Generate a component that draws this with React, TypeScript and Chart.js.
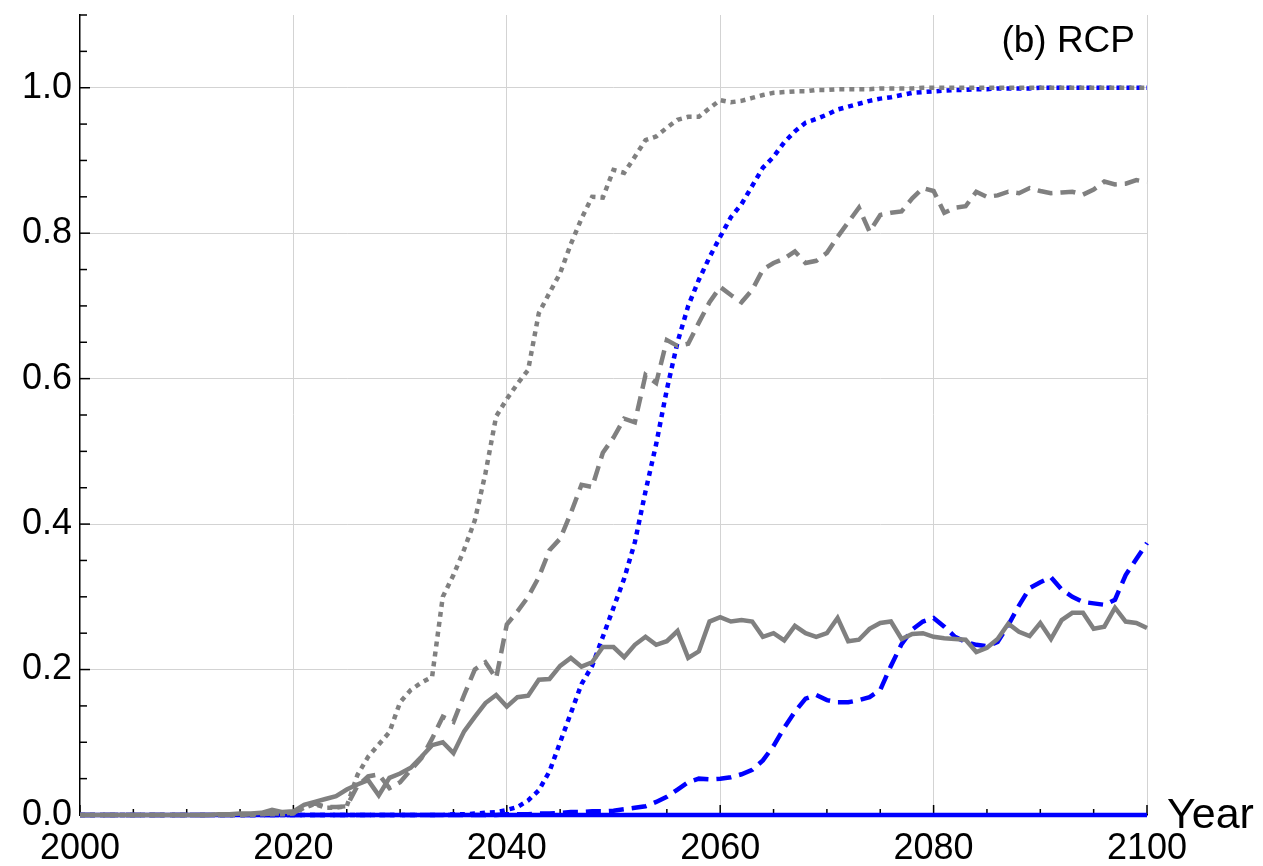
import React, { useEffect, useRef } from "react";
import { Chart, registerables } from "chart.js";

Chart.register(...registerables);

const FONT = '"Liberation Sans", Arial, Helvetica, sans-serif';

const years = Array.from({ length: 101 }, (_, i) => 2000 + i);

const xTickMarks = [2000, 2005, 2010, 2015, 2020, 2025, 2030, 2035, 2040, 2045, 2050, 2055, 2060, 2065, 2070, 2075, 2080, 2085, 2090, 2095, 2100];
const yTickMarks = [0, 0.05, 0.1, 0.15, 0.2, 0.25, 0.3, 0.35, 0.4, 0.45, 0.5, 0.55, 0.6, 0.65, 0.7, 0.75, 0.8, 0.85, 0.9, 0.95, 1.0, 1.05, 1.1];

const graySolid = [
  0, 0, 0, 0, 0, 0, 0, 0, 0, 0,
  0, 0, 0, 0.001, 0.001, 0.002, 0.002, 0.003, 0.007, 0.004,
  0.005, 0.014, 0.018, 0.022, 0.026, 0.035, 0.042, 0.048, 0.027, 0.051,
  0.057, 0.065, 0.08, 0.096, 0.1, 0.085, 0.115, 0.135, 0.154, 0.165,
  0.149, 0.162, 0.164, 0.186, 0.187, 0.205, 0.216, 0.204, 0.21, 0.231,
  0.231, 0.217, 0.234, 0.245, 0.234, 0.239, 0.253, 0.216, 0.225, 0.266,
  0.272, 0.266, 0.268, 0.266, 0.245, 0.25, 0.24, 0.26, 0.25, 0.245,
  0.25, 0.271, 0.239, 0.241, 0.256, 0.264, 0.266, 0.242, 0.249, 0.25,
  0.245, 0.243, 0.242, 0.241, 0.224, 0.23, 0.242, 0.263, 0.252, 0.246,
  0.264, 0.242, 0.268, 0.278, 0.278, 0.256, 0.259, 0.285, 0.266, 0.264,
  0.257,
];

const grayDashed = [
  0, 0, 0, 0, 0, 0, 0, 0, 0, 0,
  0, 0, 0, 0, 0, 0, 0.001, 0.001, 0.002, 0.002,
  0.003, 0.01, 0.016, 0.011, 0.011, 0.012, 0.04, 0.053, 0.056, 0.037,
  0.045, 0.062, 0.078, 0.105, 0.135, 0.128, 0.165, 0.2, 0.21, 0.188,
  0.262, 0.28, 0.3, 0.327, 0.364, 0.38, 0.415, 0.454, 0.451, 0.498,
  0.519, 0.545, 0.54, 0.605, 0.594, 0.653, 0.645, 0.648, 0.677, 0.705,
  0.726, 0.715, 0.705, 0.722, 0.75, 0.759, 0.765, 0.775, 0.759, 0.762,
  0.773, 0.795, 0.815, 0.835, 0.802, 0.825, 0.828, 0.83, 0.848, 0.862,
  0.858, 0.828, 0.835, 0.837, 0.857, 0.85, 0.852, 0.857, 0.855, 0.862,
  0.858, 0.855, 0.856, 0.857, 0.853, 0.86, 0.871, 0.867, 0.868, 0.873,
  0.87,
];

const grayDotted = [
  0, 0, 0, 0, 0, 0, 0, 0, 0, 0,
  0, 0, 0, 0, 0, 0, 0, 0.001, 0.001, 0.001,
  0.002, 0.01, 0.015, 0.01, 0.01, 0.012, 0.055, 0.08, 0.097, 0.114,
  0.155, 0.172, 0.182, 0.19, 0.3, 0.33, 0.365, 0.405, 0.47, 0.548,
  0.572, 0.593, 0.612, 0.69, 0.718, 0.745, 0.785, 0.82, 0.85, 0.849,
  0.887, 0.883, 0.905, 0.928, 0.933, 0.945, 0.956, 0.96, 0.96, 0.972,
  0.983, 0.98, 0.982, 0.986, 0.99, 0.993, 0.994, 0.995, 0.995, 0.997,
  0.997, 0.998, 0.998, 0.998, 0.998, 0.999, 0.999, 0.999, 0.999, 1,
  1, 1, 1, 1, 1, 1, 1, 1, 1, 1,
  1, 1, 1, 1, 1, 1, 1, 1, 1, 1,
  1,
];

const blueSolid = [
  0, 0, 0, 0, 0, 0, 0, 0, 0, 0,
  0, 0, 0, 0, 0, 0, 0, 0, 0, 0,
  0, 0, 0, 0, 0, 0, 0, 0, 0, 0,
  0, 0, 0, 0, 0, 0, 0, 0, 0, 0,
  0, 0, 0, 0, 0, 0, 0, 0, 0, 0,
  0, 0, 0, 0, 0, 0, 0, 0, 0, 0,
  0, 0, 0, 0, 0, 0, 0, 0, 0, 0,
  0, 0, 0, 0, 0, 0, 0, 0, 0, 0,
  0, 0, 0, 0, 0, 0, 0, 0, 0, 0,
  0, 0, 0, 0, 0, 0, 0, 0, 0, 0,
  0,
];

const blueDashed = [
  0, 0, 0, 0, 0, 0, 0, 0, 0, 0,
  0, 0, 0, 0, 0, 0, 0, 0, 0, 0,
  0, 0, 0, 0, 0, 0, 0, 0, 0, 0,
  0, 0, 0, 0, 0, 0, 0, 0, 0, 0,
  0.001, 0.001, 0.001, 0.002, 0.002, 0.003, 0.004, 0.004, 0.005, 0.005,
  0.006, 0.008, 0.01, 0.012, 0.018, 0.025, 0.035, 0.045, 0.05, 0.049,
  0.05, 0.052, 0.056, 0.062, 0.075, 0.095, 0.12, 0.142, 0.16, 0.165,
  0.158, 0.155, 0.155, 0.158, 0.162, 0.172, 0.205, 0.235, 0.255, 0.266,
  0.271, 0.259, 0.245, 0.238, 0.234, 0.232, 0.238, 0.261, 0.288, 0.312,
  0.32, 0.327, 0.31, 0.3, 0.293, 0.291, 0.289, 0.296, 0.33, 0.352,
  0.374,
];

const blueDotted = [
  0, 0, 0, 0, 0, 0, 0, 0, 0, 0,
  0, 0, 0, 0, 0, 0, 0, 0, 0, 0,
  0, 0, 0, 0, 0, 0, 0, 0, 0, 0,
  0, 0, 0, 0, 0, 0.001, 0.001, 0.002, 0.003, 0.004,
  0.007, 0.011, 0.02, 0.034, 0.06, 0.1, 0.14, 0.18, 0.205, 0.245,
  0.285, 0.325, 0.375, 0.445, 0.51, 0.585, 0.65, 0.7, 0.736, 0.767,
  0.795, 0.822, 0.84, 0.865, 0.89, 0.905, 0.925, 0.94, 0.952, 0.957,
  0.963, 0.97, 0.974, 0.978, 0.982, 0.985, 0.987, 0.99, 0.993, 0.994,
  0.995, 0.996, 0.997, 0.997, 0.998, 0.998, 0.999, 0.999, 0.999, 0.999,
  1, 1, 1, 1, 1, 1, 1, 1, 1, 1,
  1,
];

const GRAY = "#808080";
const BLUE = "#0000ff";
const DOT = [5, 5];
const DASH = [15, 8];

const toPoints = (vals: number[]) => years.map((yr, i) => ({ x: yr, y: vals[i] }));

const decorPlugin = {
  id: "decor",
  beforeDatasetsDraw(chart: any) {
    const { ctx, chartArea: a, scales } = chart;
    const xs = scales.x;
    const ys = scales.y;
    ctx.save();
    ctx.strokeStyle = "#000";
    ctx.lineWidth = 1.5;
    xTickMarks.forEach((v) => {
      const px = xs.getPixelForValue(v);
      const len = v % 20 === 0 ? 10 : 6;
      ctx.beginPath();
      ctx.moveTo(px, a.bottom);
      ctx.lineTo(px, a.bottom - len);
      ctx.stroke();
    });
    yTickMarks.forEach((v) => {
      const py = ys.getPixelForValue(v);
      const major = Math.abs(v * 5 - Math.round(v * 5)) < 1e-6;
      const len = major ? 10 : 7;
      ctx.beginPath();
      ctx.moveTo(a.left, py);
      ctx.lineTo(a.left + len, py);
      ctx.stroke();
    });
    ctx.restore();
  },
  afterDraw(chart: any) {
    const { ctx, chartArea: a } = chart;
    ctx.save();
    ctx.fillStyle = "#000";
    ctx.textBaseline = "alphabetic";
    ctx.font = `37px ${FONT}`;
    ctx.textAlign = "right";
    ctx.fillText("(b) RCP", a.right - 12, a.top + 37);
    ctx.font = `43px ${FONT}`;
    ctx.textAlign = "left";
    ctx.fillText("Year", a.right + 20, a.bottom + 13);
    ctx.restore();
  },
};

export default function App() {
  const ref = useRef<HTMLCanvasElement | null>(null);

  useEffect(() => {
    if (!ref.current) return;
    const mk = (label: string, vals: number[], color: string, dash: number[]) => ({
      label,
      data: toPoints(vals),
      borderColor: color,
      backgroundColor: color,
      borderWidth: 4.5,
      borderDash: dash,
      pointRadius: 0,
      tension: 0,
      fill: false,
      clip: 6,
    });
    const chart = new Chart(ref.current, {
      type: "line",
      data: {
        datasets: [
          mk("gray solid", graySolid, GRAY, []),
          mk("gray dashed", grayDashed, GRAY, DASH),
          mk("gray dotted", grayDotted, GRAY, DOT),
          mk("blue solid", blueSolid, BLUE, []),
          mk("blue dashed", blueDashed, BLUE, DASH),
          mk("blue dotted", blueDotted, BLUE, DOT),
        ],
      },
      options: {
        animation: false,
        responsive: false,
        layout: { padding: { top: 15, right: 116, left: 0, bottom: 0 } },
        plugins: { legend: { display: false }, tooltip: { enabled: false } },
        scales: {
          x: {
            type: "linear",
            min: 2000,
            max: 2100,
            afterFit: (s: any) => {
              s.height = 51;
              s.paddingLeft = 0;
              s.paddingRight = 0;
            },
            ticks: {
              stepSize: 20,
              padding: 12,
              color: "#000",
              font: { family: FONT, size: 36 },
              maxRotation: 0,
              autoSkip: false,
              callback: (v: any) => String(v),
            },
            grid: {
              color: (c: any) => (c.tick && c.tick.value === 2000 ? "rgba(0,0,0,0)" : "#d3d3d3"),
              lineWidth: 1,
              drawTicks: false,
            },
            border: { display: true, color: "#000", width: 1.5 },
          },
          y: {
            type: "linear",
            min: 0,
            max: 1.1,
            afterFit: (s: any) => {
              s.width = 80;
              s.paddingTop = 0;
              s.paddingBottom = 0;
            },
            ticks: {
              stepSize: 0.2,
              includeBounds: false,
              padding: 8,
              color: "#000",
              font: { family: FONT, size: 36 },
              callback: (v: any) => Number(v).toFixed(1),
            },
            grid: {
              color: (c: any) => (c.tick && c.tick.value === 0 ? "rgba(0,0,0,0)" : "#d3d3d3"),
              lineWidth: 1,
              drawTicks: false,
            },
            border: { display: true, color: "#000", width: 1.5 },
          },
        },
      },
      plugins: [decorPlugin],
    } as any);
    return () => chart.destroy();
  }, []);

  return (
    <div style={{ position: "fixed", left: 0, top: 0, width: 1263, height: 866, background: "#fff" }}>
      <canvas ref={ref} width={1263} height={866} style={{ display: "block", width: 1263, height: 866 }} />
    </div>
  );
}
